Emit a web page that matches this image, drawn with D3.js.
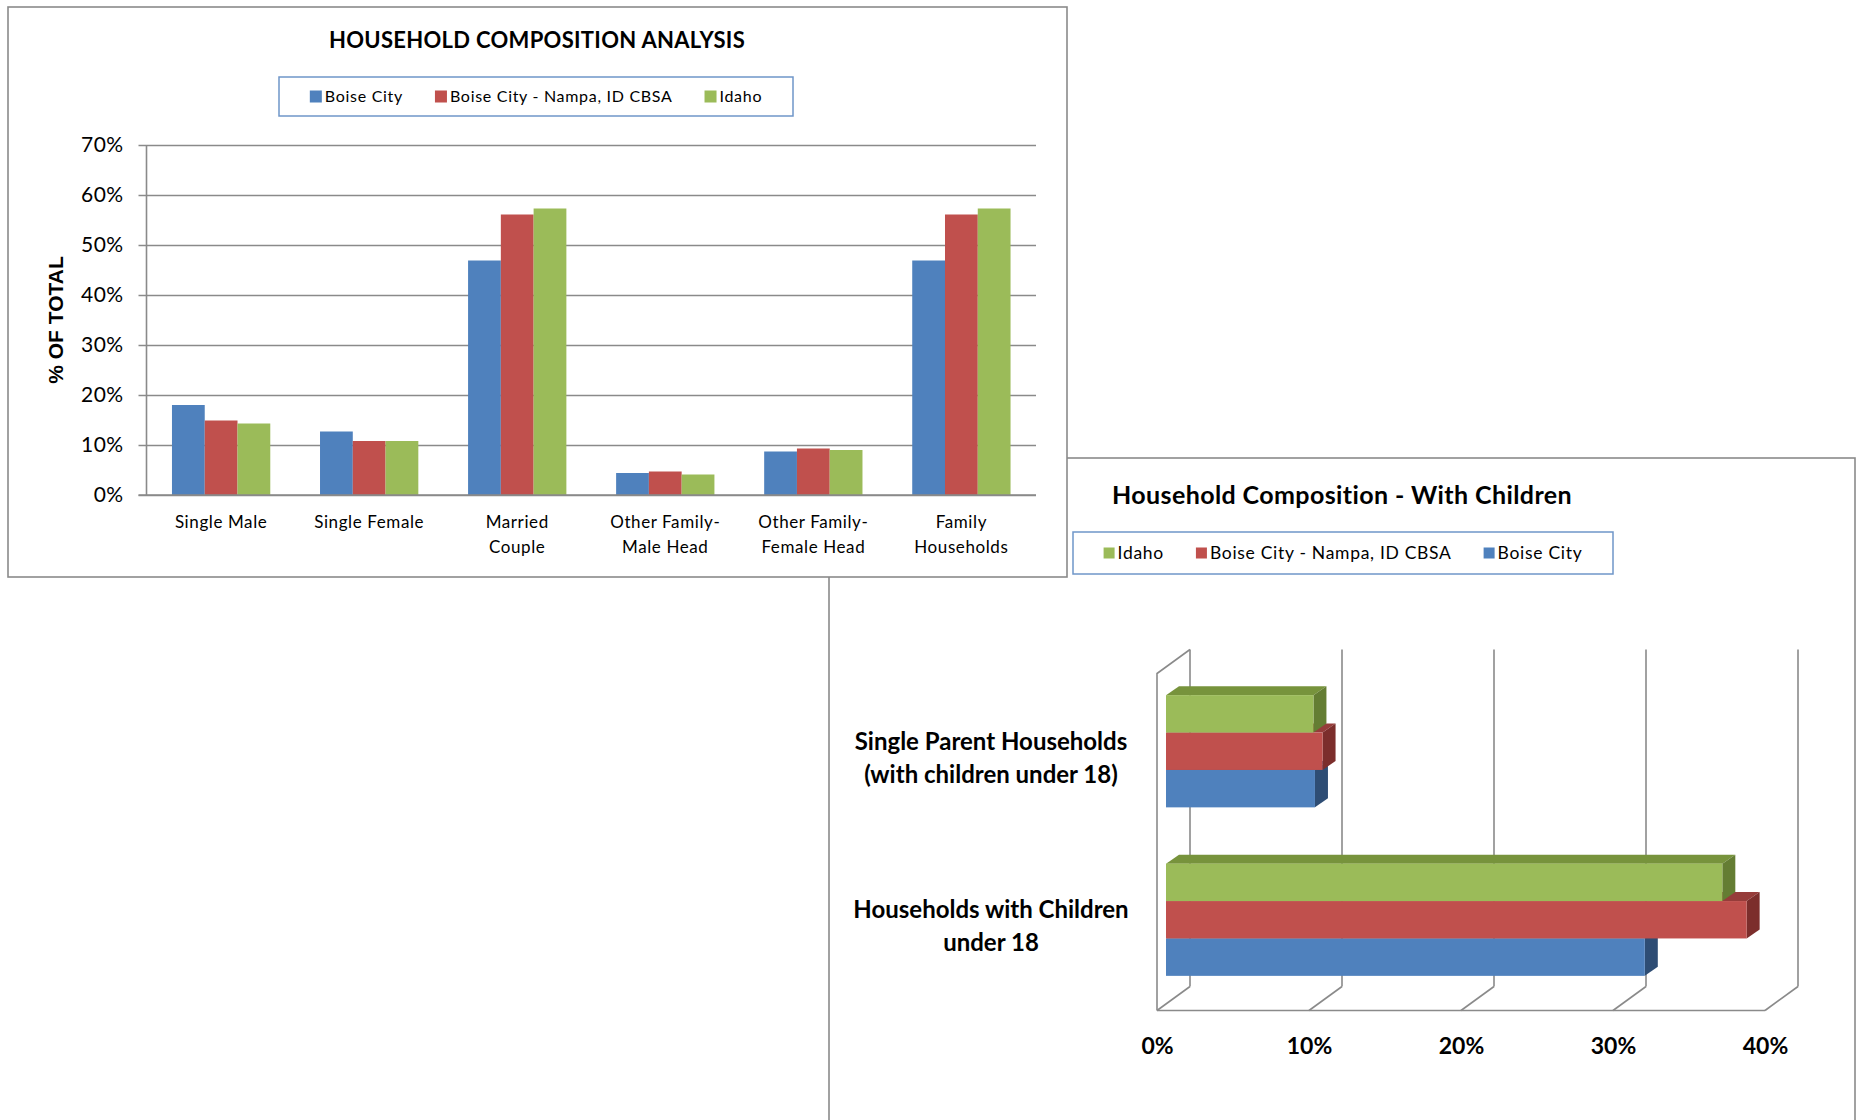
<!DOCTYPE html>
<html>
<head>
<meta charset="utf-8">
<script src="https://cdn.jsdelivr.net/npm/d3@7"></script>
<style>
  body { margin: 0; background: #fff; }
  text { font-family: Lato, "Open Sans", sans-serif; fill: #000; }
</style>
</head>
<body>
<script>
// ---- data: household composition (column chart) ----
let compCategories = ["Single Male", "Single Female", "Married Couple",
  "Other Family-Male Head", "Other Family-Female Head", "Family Households"];
let compLabelLines = [["Single Male"], ["Single Female"], ["Married", "Couple"],
  ["Other Family-", "Male Head"], ["Other Family-", "Female Head"], ["Family", "Households"]];
let seriesNames = ["Boise City", "Boise City - Nampa, ID CBSA", "Idaho"];
let seriesColors = ["#4F81BD", "#C0504D", "#9BBB59"];
let boiseCity = [18.0, 12.7, 46.9, 4.4, 8.7, 46.9];
let boiseNampa = [14.9, 10.8, 56.1, 4.7, 9.3, 56.1];
let idaho = [14.3, 10.8, 57.3, 4.1, 9.0, 57.3];
let yTicks = [0, 10, 20, 30, 40, 50, 60, 70];

// ---- data: with children (3d bar chart) ----
let childCategories = ["Single Parent Households (with children under 18)", "Households with Children under 18"];
let childLabelLines = [["Single Parent Households", "(with children under 18)"], ["Households with Children", "under 18"]];
let childSeries = ["Idaho", "Boise City - Nampa, ID CBSA", "Boise City"]; // top to bottom
let childColors = ["#9BBB59", "#C0504D", "#4F81BD"];
let childTopColors = ["#77933C", "#963C3A", "#3B6495"];
let childSideColors = ["#647D33", "#7C2E2C", "#2E4D74"];
let childIdaho = [9.7, 36.6];
let childBoiseNampa = [10.3, 38.2];
let childBoiseCity = [9.8, 31.5];
let xTicks = [0, 10, 20, 30, 40];

let svg = d3.select("body").append("svg")
    .attr("width", 1857)
    .attr("height", 1120);

let gridColor = "#8a8a8a";

// legend inside a blue box, items centred
function drawLegend(parent, names, colors, box, fontSize, sq) {
  let g = parent.append("g");
  g.append("rect")
    .attr("x", box.x).attr("y", box.y)
    .attr("width", box.w).attr("height", box.h)
    .attr("fill", "#fff")
    .attr("stroke", "#6f96c9")
    .attr("stroke-width", 1.5);
  let items = g.selectAll("g.item")
      .data(names)
    .enter().append("g")
      .attr("class", "item");
  items.append("rect")
    .attr("x", 0).attr("y", -sq / 2)
    .attr("width", sq).attr("height", sq)
    .attr("fill", (d, i) => colors[i]);
  items.append("text")
    .attr("x", sq + 3)
    .attr("dy", "0.35em")
    .style("font-size", fontSize + "px")
    .style("letter-spacing", "0.7px")
    .text(d => d);
  let widths = [];
  items.each(function() {
    widths.push(sq + 3 + d3.select(this).select("text").node().getComputedTextLength());
  });
  let gap = 32;
  let total = d3.sum(widths) + gap * (widths.length - 1);
  let x = box.x + (box.w - total) / 2;
  items.attr("transform", function(d, i) {
    let t = "translate(" + x + "," + (box.y + box.h / 2) + ")";
    x += widths[i] + gap;
    return t;
  });
}

// =================== chart 2 (drawn first, sits behind) ===================
let c2 = svg.append("g");
c2.append("rect")
  .attr("x", 829).attr("y", 458)
  .attr("width", 1026).attr("height", 700)
  .attr("fill", "#fff")
  .attr("stroke", gridColor)
  .attr("stroke-width", 1.6);

c2.append("text")
  .attr("x", 1342).attr("y", 495)
  .attr("dy", "0.35em")
  .attr("text-anchor", "middle")
  .style("font-size", "25px")
  .style("font-weight", "bold")
  .style("letter-spacing", "0.4px")
  .text("Household Composition - With Children");

drawLegend(c2, childSeries, childColors, {x: 1073, y: 532, w: 540, h: 42}, 17.5, 11);

// oblique 3d box: front plane scales + depth offset
let depthX = 33, depthY = -24;
let xFront = d3.scaleLinear().domain([0, 40]).range([1157, 1765]);
let yFront = d3.scaleBand().domain(childCategories)
    .range([673.5, 1010.5])
    .paddingInner(0.334)
    .paddingOuter(0.167);
let ySub = d3.scaleBand().domain(childSeries).range([0, yFront.bandwidth()]);

let box = c2.append("g")
    .attr("fill", "none")
    .attr("stroke", gridColor)
    .attr("stroke-width", 1.6);

// back wall gridlines
box.selectAll("line.back")
    .data(xTicks)
  .enter().append("line")
    .attr("x1", d => xFront(d) + depthX).attr("x2", d => xFront(d) + depthX)
    .attr("y1", yFront.range()[0] + depthY)
    .attr("y2", yFront.range()[1] + depthY);
// floor diagonals
box.selectAll("line.floor")
    .data(xTicks)
  .enter().append("line")
    .attr("x1", d => xFront(d)).attr("y1", yFront.range()[1])
    .attr("x2", d => xFront(d) + depthX).attr("y2", yFront.range()[1] + depthY);
// floor front edge
box.append("line")
  .attr("x1", xFront(0)).attr("x2", xFront(40))
  .attr("y1", yFront.range()[1]).attr("y2", yFront.range()[1]);
// left wall
box.append("path")
  .attr("d", "M" + (xFront(0) + depthX) + "," + (yFront.range()[0] + depthY) +
    "L" + xFront(0) + "," + yFront.range()[0] +
    "L" + xFront(0) + "," + yFront.range()[1]);

// bars: bar front face sits a little into the box
let barOff = {x: 9, y: -6.5};
let barDepth = {x: 13, y: -9};
let childValues = [childIdaho, childBoiseNampa, childBoiseCity];

let barData = [];
// bottom series first so upper bars cover hidden faces
for (let s = childSeries.length - 1; s >= 0; s--) {
  childCategories.forEach(function(c, i) {
    barData.push({cat: c, s: s, value: childValues[s][i]});
  });
}

let bars = c2.selectAll("g.bar3d")
    .data(barData)
  .enter().append("g")
    .attr("class", "bar3d");

function barGeom(d) {
  let x0 = xFront(0) + barOff.x;
  let x1 = xFront(d.value) + barOff.x;
  let y0 = yFront(d.cat) + ySub(childSeries[d.s]) + barOff.y;
  let y1 = y0 + ySub.bandwidth();
  return {x0: x0, x1: x1, y0: y0, y1: y1};
}

bars.append("path")
  .attr("fill", d => childTopColors[d.s])
  .attr("d", function(d) {
    let b = barGeom(d);
    return "M" + b.x0 + "," + b.y0 + "L" + b.x1 + "," + b.y0 +
      "L" + (b.x1 + barDepth.x) + "," + (b.y0 + barDepth.y) +
      "L" + (b.x0 + barDepth.x) + "," + (b.y0 + barDepth.y) + "Z";
  });
bars.append("path")
  .attr("fill", d => childSideColors[d.s])
  .attr("d", function(d) {
    let b = barGeom(d);
    return "M" + b.x1 + "," + b.y0 +
      "L" + (b.x1 + barDepth.x) + "," + (b.y0 + barDepth.y) +
      "L" + (b.x1 + barDepth.x) + "," + (b.y1 + barDepth.y) +
      "L" + b.x1 + "," + b.y1 + "Z";
  });
bars.append("rect")
  .attr("fill", d => childColors[d.s])
  .attr("x", d => barGeom(d).x0)
  .attr("y", d => barGeom(d).y0)
  .attr("width", d => barGeom(d).x1 - barGeom(d).x0)
  .attr("height", ySub.bandwidth());

// category labels on the front plane
let catLabels = c2.selectAll("text.cat")
    .data(childCategories)
  .enter().append("text")
    .attr("class", "cat")
    .attr("text-anchor", "middle")
    .style("font-size", "24px")
    .style("font-weight", "bold");
catLabels.selectAll("tspan")
    .data((d, i) => childLabelLines[i].map((t, j, arr) => ({t: t, j: j, n: arr.length, c: d})))
  .enter().append("tspan")
    .attr("x", 991)
    .attr("y", d => yFront(d.c) + yFront.bandwidth() / 2 + (d.j - (d.n - 1) / 2) * 33)
    .attr("dy", "0.35em")
    .text(d => d.t);

// value axis labels
let xAxis2 = c2.append("g")
    .attr("transform", "translate(0," + yFront.range()[1] + ")")
    .call(d3.axisBottom(xFront).tickValues(xTicks).tickSize(0).tickPadding(27)
      .tickFormat(d => d + "%"));
xAxis2.select(".domain").remove();
xAxis2.selectAll("text")
  .style("font-family", "Lato, sans-serif")
  .style("font-size", "23px")
  .style("font-weight", "bold")
  .attr("fill", "#000");

// =================== chart 1 (on top) ===================
let c1 = svg.append("g");
c1.append("rect")
  .attr("x", 8).attr("y", 7)
  .attr("width", 1059).attr("height", 570)
  .attr("fill", "#fff")
  .attr("stroke", gridColor)
  .attr("stroke-width", 1.6);

c1.append("text")
  .attr("x", 537).attr("y", 40)
  .attr("dy", "0.35em")
  .attr("text-anchor", "middle")
  .style("font-size", "22px")
  .style("font-weight", "bold")
  .style("letter-spacing", "0.3px")
  .text("HOUSEHOLD COMPOSITION ANALYSIS");

drawLegend(c1, seriesNames, seriesColors, {x: 279, y: 77, w: 514, h: 39}, 16, 12);

let axisX = 146.5, plotRight = 1036;
let yScale = d3.scaleLinear().domain([0, 70]).range([495, 145]);
let xScale = d3.scaleBand().domain(compCategories)
    .range([axisX, plotRight])
    .paddingInner(0.336)
    .paddingOuter(0.172);
let xSub = d3.scaleBand().domain(seriesNames).range([0, xScale.bandwidth()]);

// gridlines + y axis
let yAxis = c1.append("g")
    .attr("transform", "translate(" + axisX + ",0)")
    .call(d3.axisLeft(yScale).tickValues(yTicks)
      .tickSize(-(plotRight - axisX)).tickPadding(23)
      .tickFormat(d => d + "%"));
yAxis.selectAll(".tick line")
  .attr("x1", -8)
  .attr("stroke", gridColor)
  .attr("stroke-width", 1.6);
yAxis.select(".domain").remove();
yAxis.append("line")
  .attr("x1", 0).attr("x2", 0)
  .attr("y1", yScale(70)).attr("y2", yScale(0))
  .attr("stroke", gridColor)
  .attr("stroke-width", 1.6);
yAxis.selectAll("text")
  .style("font-family", "Lato, sans-serif")
  .style("font-size", "21px")
  .style("letter-spacing", "0.4px")
  .attr("fill", "#000");

c1.append("text")
  .attr("transform", "translate(56,320) rotate(-90)")
  .attr("dy", "0.35em")
  .attr("text-anchor", "middle")
  .style("font-family", "'Liberation Sans', Arial, sans-serif")
  .style("font-size", "21px")
  .style("font-weight", "bold")
  .text("% OF TOTAL");

// columns
let compValues = [boiseCity, boiseNampa, idaho];
let groups = c1.selectAll("g.group")
    .data(compCategories)
  .enter().append("g")
    .attr("class", "group")
    .attr("transform", d => "translate(" + xScale(d) + ",0)");
groups.selectAll("rect")
    .data((d, i) => seriesNames.map((s, j) => ({s: s, j: j, value: compValues[j][i]})))
  .enter().append("rect")
    .attr("x", d => xSub(d.s))
    .attr("y", d => yScale(d.value))
    .attr("width", xSub.bandwidth())
    .attr("height", d => yScale(0) - yScale(d.value))
    .attr("fill", d => seriesColors[d.j]);

// redraw baseline over bar bottoms
c1.append("line")
  .attr("x1", axisX - 8).attr("x2", plotRight)
  .attr("y1", yScale(0)).attr("y2", yScale(0))
  .attr("stroke", gridColor)
  .attr("stroke-width", 1.6);

// category labels
let compLabels = c1.selectAll("text.cat")
    .data(compCategories)
  .enter().append("text")
    .attr("class", "cat")
    .attr("text-anchor", "middle")
    .style("font-size", "17px")
    .style("letter-spacing", "0.6px");
compLabels.selectAll("tspan")
    .data((d, i) => compLabelLines[i].map((t, j) => ({t: t, j: j, c: d})))
  .enter().append("tspan")
    .attr("x", d => xScale(d.c) + xScale.bandwidth() / 2)
    .attr("y", d => 522 + d.j * 25)
    .attr("dy", "0.35em")
    .text(d => d.t);
</script>
</body>
</html>
